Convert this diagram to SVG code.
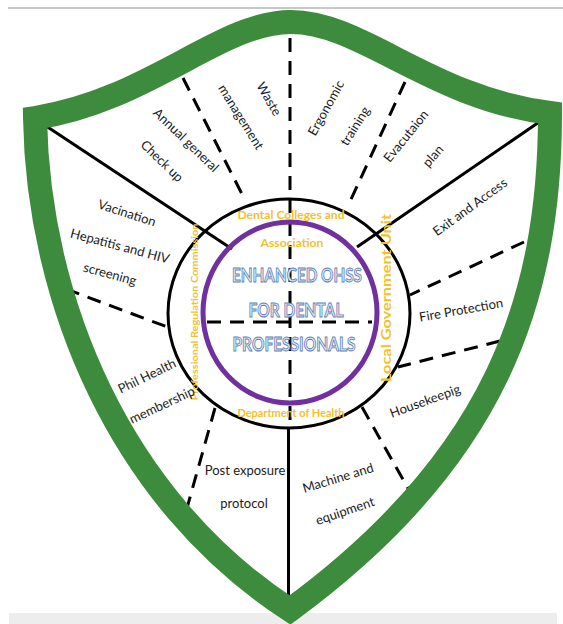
<svg xmlns="http://www.w3.org/2000/svg" width="563" height="624" viewBox="0 0 563 624">
<style>
.lbl{font-family:Lato,"Liberation Sans",sans-serif;font-size:13px;fill:#1c1c1c;text-anchor:middle}
.gold{font-family:Lato,"Liberation Sans",sans-serif;font-weight:700;fill:#f2c12e;text-anchor:middle}
.title{font-family:Lato,"Liberation Sans",sans-serif;font-size:19px;font-weight:700;fill:#e4eaf3;stroke:#5d7fb6;stroke-width:0.9;text-anchor:middle}
.solid{stroke:#000;stroke-width:3;fill:none}
.dash{stroke:#000;stroke-width:3;fill:none;stroke-dasharray:14 9}
.shield{fill:none;stroke:#3d8b3d;stroke-width:24;stroke-linejoin:miter;stroke-miterlimit:10}
</style>
<rect width="563" height="624" fill="#fff"/>
<line x1="8" y1="8" x2="563" y2="8" stroke="#b4b4b4" stroke-width="1.5"/>
<rect x="9" y="613" width="548" height="11" fill="#ededed"/>
<path id="shield-fill" d="M35 118 C150 100 220 22 291 22 C362 22 430 98 550 113 C550 300 495 460 290 610 C120 500 38 300 35 118 Z" fill="#fff"/>

<g id="connectors">
  <line class="solid" x1="40" y1="122" x2="232" y2="249"/>
  <line class="solid" x1="545" y1="118" x2="357" y2="247"/>
  <line class="solid" x1="288.5" y1="428" x2="288.5" y2="600"/>
  <line class="dash" x1="290" y1="38" x2="290" y2="428"/>
  <line class="dash" x1="207" y1="322" x2="372" y2="322"/>
  <line class="dash" x1="183" y1="78" x2="245" y2="200"/>
  <line class="dash" x1="405" y1="82" x2="348" y2="206"/>
  <line class="dash" x1="524" y1="242" x2="410" y2="295"/>
  <line class="dash" x1="500" y1="341" x2="398" y2="367"/>
  <line class="dash" x1="362" y1="407" x2="409" y2="490"/>
  <line class="dash" x1="215" y1="408" x2="187" y2="508"/>
  <line class="dash" x1="66" y1="289" x2="170" y2="328"/>
</g>

<g id="center-hub">
  <ellipse cx="289" cy="313.5" rx="121" ry="114.5" fill="none" stroke="#000" stroke-width="3"/>
  <ellipse cx="290" cy="312.5" rx="87" ry="90.5" fill="none" stroke="#7030a0" stroke-width="5"/>
  <text class="title" x="297" y="282" textLength="130" lengthAdjust="spacingAndGlyphs">ENHANCED OHSS</text>
  <text class="title" x="296" y="317" textLength="95" lengthAdjust="spacingAndGlyphs">FOR DENTAL</text>
  <text class="title" x="294" y="351" textLength="123" lengthAdjust="spacingAndGlyphs">PROFESSIONALS</text>
</g>

<g id="ring-dental-colleges"><text class="gold" font-size="11.5" x="291" y="219" textLength="107" lengthAdjust="spacingAndGlyphs">Dental Colleges and</text>
<text class="gold" font-size="11.5" x="292" y="247" textLength="63" lengthAdjust="spacingAndGlyphs">Association</text></g>
<g id="ring-doh"><text class="gold" font-size="11.5" x="291" y="417" textLength="107" lengthAdjust="spacingAndGlyphs">Department of Health</text></g>
<g id="ring-prc"><text class="gold" font-size="10" transform="translate(194 312) rotate(-90)" x="0" y="4" textLength="177" lengthAdjust="spacingAndGlyphs">Professional Regulation Commission</text></g>
<g id="ring-lgu"><text class="gold" font-size="13.5" transform="translate(386 298) rotate(-90)" x="0" y="5" textLength="168" lengthAdjust="spacingAndGlyphs">Local Government Unit</text></g>

<g id="n-annual"><text class="lbl" transform="translate(186 140) rotate(44)" y="4.5">Annual general</text>
<text class="lbl" transform="translate(162 161) rotate(44)" y="4.5">Check up</text></g>
<g id="n-waste"><text class="lbl" transform="translate(241 117) rotate(58)" y="4.5">management</text>
<text class="lbl" transform="translate(269 99) rotate(60)" y="4.5">Waste</text></g>
<g id="n-ergonomic"><text class="lbl" transform="translate(326 108) rotate(-61)" y="4.5">Ergonomic</text>
<text class="lbl" transform="translate(355 126) rotate(-58)" y="4.5">training</text></g>
<g id="n-evacuation"><text class="lbl" transform="translate(406 136) rotate(-51)" y="4.5">Evacutaion</text>
<text class="lbl" transform="translate(433 156) rotate(-49)" y="4.5">plan</text></g>
<g id="n-exit"><text class="lbl" transform="translate(470 207) rotate(-36)" y="4.5">Exit and Access</text></g>
<g id="n-fire"><text class="lbl" transform="translate(461 310) rotate(-10)" y="4.5">Fire Protection</text></g>
<g id="n-housekeeping"><text class="lbl" transform="translate(425 401) rotate(-20)" y="4.5">Housekeepig</text></g>
<g id="n-machine"><text class="lbl" transform="translate(338 478) rotate(-17)" y="4.5">Machine and</text>
<text class="lbl" transform="translate(345 511) rotate(-19)" y="4.5">equipment</text></g>
<g id="n-post"><text class="lbl" x="245" y="475">Post exposure</text>
<text class="lbl" x="244" y="508">protocol</text></g>
<g id="n-philhealth"><text class="lbl" transform="translate(147 376) rotate(-26)" y="4.5">Phil Health</text>
<text class="lbl" transform="translate(162 405) rotate(-25)" y="4.5">membership</text></g>
<g id="n-vaccination"><text class="lbl" transform="translate(127 213) rotate(18)" y="4.5">Vacination</text>
<text class="lbl" transform="translate(120 246) rotate(15)" y="4.5">Hepatitis and HIV</text>
<text class="lbl" transform="translate(110 274) rotate(15)" y="4.5">screening</text></g>

<path id="shield" class="shield" d="M35 118 C150 100 220 22 291 22 C362 22 430 98 550 113 C550 300 495 460 290 610 C120 500 38 300 35 118 Z"/>
</svg>
